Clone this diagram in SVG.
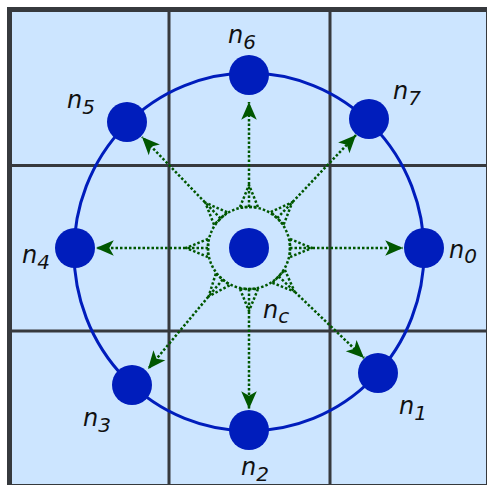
<svg xmlns="http://www.w3.org/2000/svg" width="487" height="485" viewBox="0 0 487 485">
<style>
.grid{stroke:#36393d;fill:none}
.ring{fill:none;stroke:#001dbc;stroke-width:3}
.node{fill:#001dbc}
.dot{fill:none;stroke:#005700;stroke-width:2.5;stroke-dasharray:2.5 2}
.lbl{font-family:"DejaVu Sans",Verdana,sans-serif;font-style:italic;font-size:24px;fill:#111}
.sub{font-size:20px}
</style>
<defs>
<marker id="ah" markerUnits="userSpaceOnUse" markerWidth="20" markerHeight="20" viewBox="-17 -8 18 16" refX="0" refY="0" orient="auto">
<path d="M0,0 L-16,-7 L-12,0 L-16,7 Z" fill="#005700"/>
</marker>
</defs>
<g id="grid">
<rect x="9.5" y="9.5" width="479" height="477" fill="#cce5ff" stroke="none"/>
<line class="grid" x1="169" y1="10" x2="169" y2="487" stroke-width="3"/>
<line class="grid" x1="330" y1="10" x2="330" y2="487" stroke-width="3"/>
<line class="grid" x1="10" y1="165.5" x2="489" y2="165.5" stroke-width="3"/>
<line class="grid" x1="10" y1="331" x2="489" y2="331" stroke-width="3"/>
<rect class="grid" x="9.5" y="9.5" width="479" height="477" stroke-width="5"/>
</g>
<g id="ring">
<ellipse class="ring" cx="249" cy="252" rx="175" ry="179"/>
</g>
<g id="connectors">
<circle class="dot" cx="249" cy="248" r="41"/>
<line class="dot" x1="290" y1="248" x2="403" y2="248" marker-end="url(#ah)"/>
<polygon class="dot" points="290,239 312,248 290,257"/>
<line class="dot" x1="208" y1="248" x2="96" y2="248" marker-end="url(#ah)"/>
<polygon class="dot" points="208,239 186,248 208,257"/>
<line class="dot" x1="249" y1="207" x2="249" y2="102" marker-end="url(#ah)"/>
<polygon class="dot" points="240,207 249,185 258,207"/>
<line class="dot" x1="249" y1="289" x2="249" y2="409" marker-end="url(#ah)"/>
<polygon class="dot" points="240,289 249,311 258,289"/>
<line class="dot" x1="278.63" y1="276.35" x2="364" y2="358" marker-end="url(#ah)"/>
<polygon class="dot" points="272.41,282.86 294.54,291.56 284.85,269.84"/>
<line class="dot" x1="222.72" y1="279.48" x2="148" y2="369" marker-end="url(#ah)"/>
<polygon class="dot" points="215.81,273.71 208.62,296.37 229.63,285.25"/>
<line class="dot" x1="220.55" y1="218.49" x2="142" y2="137" marker-end="url(#ah)"/>
<polygon class="dot" points="227.03,212.24 205.28,202.65 214.07,224.74"/>
<line class="dot" x1="277.2" y1="218.23" x2="356" y2="135" marker-end="url(#ah)"/>
<polygon class="dot" points="283.74,224.42 292.33,202.25 270.66,212.04"/>
</g>
<g id="nc"><circle class="node" cx="249" cy="248" r="20"/><text class="lbl" x="263" y="318">n<tspan class="sub" dy="5">c</tspan></text></g>
<g id="n0"><circle class="node" cx="424" cy="248" r="20"/><text class="lbl" x="449" y="258">n<tspan class="sub" dy="5">0</tspan></text></g>
<g id="n1"><circle class="node" cx="378" cy="373" r="20"/><text class="lbl" x="399" y="414">n<tspan class="sub" dy="6">1</tspan></text></g>
<g id="n2"><circle class="node" cx="249" cy="430" r="20"/><text class="lbl" x="241" y="475">n<tspan class="sub" dy="6">2</tspan></text></g>
<g id="n3"><circle class="node" cx="132" cy="385" r="20"/><text class="lbl" x="83" y="426">n<tspan class="sub" dy="6">3</tspan></text></g>
<g id="n4"><circle class="node" cx="75" cy="248" r="20"/><text class="lbl" x="22" y="263">n<tspan class="sub" dy="6">4</tspan></text></g>
<g id="n5"><circle class="node" cx="127" cy="122" r="20"/><text class="lbl" x="67" y="108">n<tspan class="sub" dy="6">5</tspan></text></g>
<g id="n6"><circle class="node" cx="249" cy="75" r="20"/><text class="lbl" x="228" y="43">n<tspan class="sub" dy="6">6</tspan></text></g>
<g id="n7"><circle class="node" cx="369" cy="119" r="20"/><text class="lbl" x="393" y="99">n<tspan class="sub" dy="6">7</tspan></text></g>
</svg>
